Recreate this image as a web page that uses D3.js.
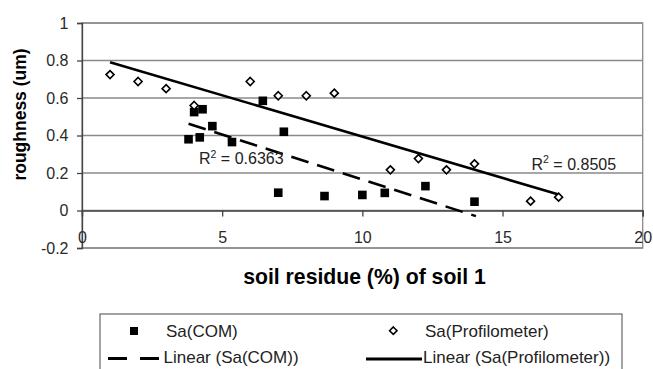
<!DOCTYPE html>
<html><head><meta charset="utf-8">
<script src="https://cdn.jsdelivr.net/npm/d3@7"></script>
<style>body{margin:0;background:#fff}svg{display:block}text{font-family:Arial,"Liberation Sans",sans-serif}</style>
</head><body>
<svg id="c" width="653" height="369"></svg>
<script>
// Data
const comX = [3.8, 4.0, 4.2, 4.3, 4.65, 5.35, 6.45, 7.2, 7.0, 8.65, 10.0, 10.8, 12.25, 14.0];
const comY = [0.38, 0.525, 0.39, 0.54, 0.45, 0.365, 0.585, 0.42, 0.095, 0.077, 0.083, 0.094, 0.13, 0.047];
const profX = [1, 2, 3, 4, 6, 7, 8, 9, 11, 12, 13, 14, 16, 17];
const profY = [0.725, 0.688, 0.65, 0.56, 0.688, 0.612, 0.612, 0.626, 0.217, 0.277, 0.217, 0.249, 0.05, 0.071];
const comTrendX = [3.8, 14.05];
const comTrendY = [0.463, -0.03];
const profTrendX = [1, 17];
const profTrendY = [0.791, 0.085];
const xTicks = [0, 5, 10, 15, 20];
const yTicks = [-0.2, 0, 0.2, 0.4, 0.6, 0.8, 1];
const r2Labels = ["0.6363", "0.8505"];

const svg = d3.select("#c");
const x = d3.scaleLinear().domain([0, 20]).range([82, 642.7]);
const y = d3.scaleLinear().domain([-0.2, 1]).range([248, 23]);

// gridlines
svg.append("g").selectAll("line").data(yTicks).join("line")
  .attr("x1", x(0)).attr("x2", x(20)).attr("y1", d => y(d)).attr("y2", d => y(d))
  .attr("stroke", "#8a8a8a").attr("stroke-width", 1.3);
svg.append("rect").attr("x", x(0)).attr("y", y(1)).attr("width", x(20) - x(0)).attr("height", y(-0.2) - y(1))
  .attr("fill", "none").attr("stroke", "#8a8a8a").attr("stroke-width", 1.3);

// y axis
const ya = svg.append("g").attr("transform", `translate(${x(0)},0)`)
  .call(d3.axisLeft(y).tickValues(yTicks).tickSize(5).tickPadding(8.5).tickFormat(d => String(+d.toFixed(1))));
ya.select(".domain").attr("stroke", "#444").attr("stroke-width", 1.3);
ya.selectAll(".tick line").attr("stroke", "#444").attr("stroke-width", 1.3);
ya.selectAll("text").attr("font-size", 16).attr("fill", "#2a2a2a").attr("font-family", "Arial, 'Liberation Sans', sans-serif");

// x axis at y=0
const xa = svg.append("g").attr("transform", `translate(0,${y(0)})`)
  .call(d3.axisBottom(x).tickValues(xTicks).tickSize(6).tickPadding(15));
xa.select(".domain").attr("stroke", "#444").attr("stroke-width", 1.3);
xa.selectAll(".tick line").attr("stroke", "#444").attr("stroke-width", 1.3);
xa.selectAll("text").attr("font-size", 16).attr("fill", "#2a2a2a").attr("font-family", "Arial, 'Liberation Sans', sans-serif");

// trendlines
const line = d3.line().x(d => x(d[0])).y(d => y(d[1]));
svg.append("path").datum(profTrendX.map((v, i) => [v, profTrendY[i]]))
  .attr("d", line).attr("stroke", "#000").attr("stroke-width", 2.6).attr("fill", "none");
svg.append("path").datum(comTrendX.map((v, i) => [v, comTrendY[i]]))
  .attr("d", line).attr("stroke", "#000").attr("stroke-width", 2.6).attr("fill", "none")
  .attr("stroke-dasharray", "18,9");

// markers
svg.append("g").selectAll("rect").data(comX.map((v, i) => [v, comY[i]])).join("rect")
  .attr("x", d => x(d[0]) - 4.3).attr("y", d => y(d[1]) - 4.3).attr("width", 8.6).attr("height", 8.6).attr("fill", "#000");
const diamond = (cx, cy, r) => `M${cx},${cy - r}L${cx + r},${cy}L${cx},${cy + r}L${cx - r},${cy}Z`;
svg.append("g").selectAll("path").data(profX.map((v, i) => [v, profY[i]])).join("path")
  .attr("d", d => diamond(x(d[0]), y(d[1]), 4)).attr("fill", "#fff").attr("stroke", "#000").attr("stroke-width", 1.6);

// R² labels
function r2(tx, ty, val) {
  const t = svg.append("text").attr("x", tx).attr("y", ty).attr("font-size", 16).attr("fill", "#222");
  t.append("tspan").text("R");
  t.append("tspan").attr("font-size", 10.5).attr("dy", -6.5).text("2");
  t.append("tspan").attr("dy", 6.5).text(" = " + val);
}
r2(199, 164, r2Labels[0]);
r2(531.5, 169.5, r2Labels[1]);

// axis titles
svg.append("text").attr("x", 364.5).attr("y", 284).attr("text-anchor", "middle")
  .attr("font-size", 21.2).attr("font-weight", "bold").attr("fill", "#000").text("soil residue (%) of soil 1");
svg.append("text").attr("transform", "translate(25.5,114.5) rotate(-90)").attr("text-anchor", "middle")
  .attr("font-size", 17.5).attr("font-weight", "bold").attr("fill", "#000").text("roughness (um)");

// legend
const lg = svg.append("g");
lg.append("rect").attr("x", 100).attr("y", 314).attr("width", 522).attr("height", 70)
  .attr("fill", "#fff").attr("stroke", "#666").attr("stroke-width", 1.2);
lg.append("rect").attr("x", 130).attr("y", 327).attr("width", 8).attr("height", 8).attr("fill", "#000");
lg.append("text").attr("x", 166).attr("y", 337).attr("font-size", 17).attr("fill", "#222").text("Sa(COM)");
lg.append("path").attr("d", diamond(393.3, 330.7, 3.7)).attr("fill", "#fff").attr("stroke", "#000").attr("stroke-width", 1.6);
lg.append("text").attr("x", 425).attr("y", 337).attr("font-size", 17).attr("fill", "#222").text("Sa(Profilometer)");
lg.append("line").attr("x1", 108).attr("x2", 162).attr("y1", 358.5).attr("y2", 358.5)
  .attr("stroke", "#000").attr("stroke-width", 2.8).attr("stroke-dasharray", "19,13");
lg.append("text").attr("x", 163.5).attr("y", 363).attr("font-size", 17).attr("fill", "#222").text("Linear (Sa(COM))");
lg.append("line").attr("x1", 366).attr("x2", 422).attr("y1", 359).attr("y2", 359)
  .attr("stroke", "#000").attr("stroke-width", 2.8);
lg.append("text").attr("x", 423).attr("y", 363).attr("font-size", 17).attr("fill", "#222").text("Linear (Sa(Profilometer))");
</script>
</body></html>
